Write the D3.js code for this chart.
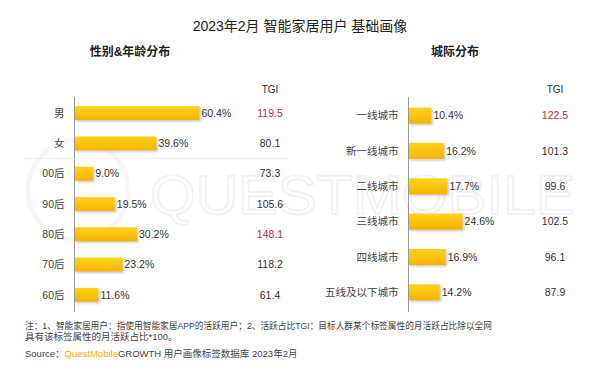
<!DOCTYPE html>
<html>
<head>
<meta charset="utf-8">
<script src="https://cdn.jsdelivr.net/npm/d3@7"></script>
<style>
  body { margin: 0; background: #fff; }
  text { font-family: "Liberation Sans", "Noto Sans CJK SC", sans-serif; }
</style>
</head>
<body>
<div id="chart"></div>
<script>
// data
const ageCats = ["男", "女", "00后", "90后", "80后", "70后", "60后"];
const ageVals = [60.4, 39.6, 9.0, 19.5, 30.2, 23.2, 11.6];
const ageTgi = [119.5, 80.1, 73.3, 105.6, 148.1, 118.2, 61.4];

const cityCats = ["一线城市", "新一线城市", "二线城市", "三线城市", "四线城市", "五线及以下城市"];
const cityVals = [10.4, 16.2, 17.7, 24.6, 16.9, 14.2];
const cityTgi = [122.5, 101.3, 99.6, 102.5, 96.1, 87.9];

// TGI values shown in red
const tgiHighlight = ["男", "80后", "一线城市"];

const W = 600, H = 375;
const cjk = '"Noto Sans CJK SC", sans-serif';
const textColor = "#333";

const svg = d3.select("#chart").append("svg")
    .attr("width", W)
    .attr("height", H);

svg.append("rect").attr("width", W).attr("height", H).attr("fill", "#fff");

const defs = svg.append("defs");
const grad = defs.append("linearGradient")
    .attr("id", "barGrad")
    .attr("x1", 0).attr("y1", 0).attr("x2", 0).attr("y2", 1);
grad.append("stop").attr("offset", "0%").attr("stop-color", "#ffd21a");
grad.append("stop").attr("offset", "100%").attr("stop-color", "#f5b400");

const shadow = defs.append("filter").attr("id", "shadow")
    .attr("x", "-5%").attr("y", "-20%").attr("width", "115%").attr("height", "160%");
shadow.append("feDropShadow")
    .attr("dx", 1.5).attr("dy", 1.5).attr("stdDeviation", 1)
    .attr("flood-color", "#888").attr("flood-opacity", 0.45);

// faint watermark (logo ring + outlined word), drawn as a path-like shape so it stays in the back
svg.append("circle")
    .attr("cx", 78).attr("cy", 190).attr("r", 50)
    .attr("fill", "none").attr("stroke", "#f6f6f6").attr("stroke-width", 5);
svg.append("text")
    .attr("x", 150).attr("y", 214)
    .attr("font-size", 56)
    .attr("textLength", 425)
    .attr("lengthAdjust", "spacingAndGlyphs")
    .attr("fill", "none")
    .attr("stroke", "#f2f2f2")
    .attr("stroke-width", 2)
    .text("QUESTMOBILE");

//Title
svg.append("text")
    .attr("x", 300).attr("y", 31)
    .attr("text-anchor", "middle")
    .attr("font-family", cjk)
    .attr("font-size", 14)
    .attr("fill", "#222")
    .text("2023年2月 智能家居用户 基础画像");

svg.append("text")
    .attr("x", 130).attr("y", 56)
    .attr("text-anchor", "middle")
    .attr("font-family", cjk)
    .attr("font-size", 12)
    .attr("font-weight", 600)
    .attr("fill", "#222")
    .text("性别&年龄分布");

svg.append("text")
    .attr("x", 455).attr("y", 56)
    .attr("text-anchor", "middle")
    .attr("font-family", cjk)
    .attr("font-size", 12)
    .attr("font-weight", 600)
    .attr("fill", "#222")
    .text("城际分布");

function panel(cats, vals, tgi, opt) {
    let y = d3.scaleBand().domain(cats)
        .range([98, 310])
        .paddingInner(opt.pad)
        .paddingOuter(opt.pad / 2);
    let x = d3.scaleLinear().domain([0, 100]).range([opt.x0, opt.x0 + opt.span]);

    let g = svg.append("g");

    // category labels
    g.selectAll(".cat")
        .data(cats)
        .enter().append("text")
        .attr("x", opt.x0 - 10)
        .attr("y", d => y(d) + y.bandwidth() / 2)
        .attr("dy", "0.35em")
        .attr("text-anchor", "end")
        .attr("font-family", cjk)
        .attr("font-size", 10.5)
        .attr("fill", "#444")
        .text(d => d);

    g.selectAll(".bar")
        .data(cats)
        .enter().append("rect")
        .attr("x", x(0))
        .attr("y", d => y(d))
        .attr("width", (d, i) => x(vals[i]) - x(0))
        .attr("height", y.bandwidth())
        .attr("fill", "url(#barGrad)")
        .attr("filter", "url(#shadow)");

    g.selectAll(".val")
        .data(cats)
        .enter().append("text")
        .attr("x", (d, i) => x(vals[i]) + 2)
        .attr("y", d => y(d) + y.bandwidth() / 2)
        .attr("dy", "0.35em")
        .attr("font-size", 10.5)
        .attr("fill", textColor)
        .text((d, i) => vals[i].toFixed(1) + "%");

    // vertical axis line
    g.append("line")
        .attr("x1", opt.x0).attr("x2", opt.x0)
        .attr("y1", 97).attr("y2", 312)
        .attr("stroke", "#999").attr("stroke-width", 1);

    g.append("text")
        .attr("x", opt.tgiX).attr("y", 93)
        .attr("text-anchor", "middle")
        .attr("font-size", 10)
        .attr("fill", textColor)
        .text("TGI");

    g.selectAll(".tgi")
        .data(cats)
        .enter().append("text")
        .attr("x", opt.tgiX)
        .attr("y", d => y(d) + y.bandwidth() / 2)
        .attr("dy", "0.35em")
        .attr("text-anchor", "middle")
        .attr("font-size", 10.5)
        .attr("fill", d => tgiHighlight.includes(d) ? "#b83245" : textColor)
        .text((d, i) => tgi[i].toFixed(1));

    return y;
}

let yAge = panel(ageCats, ageVals, ageTgi, {x0: 74.5, span: 207, pad: 0.54, tgiX: 270});
panel(cityCats, cityVals, cityTgi, {x0: 408.5, span: 220, pad: 0.545, tgiX: 555});

// separator between gender and age rows
let sepY = (yAge("女") + yAge.bandwidth() + yAge("00后")) / 2;
svg.append("line")
    .attr("x1", 25).attr("x2", 288)
    .attr("y1", sepY).attr("y2", sepY)
    .attr("stroke", "#ececec");

// footnote
const note1 = "注：1、智能家居用户：指使用智能家居APP的活跃用户；2、活跃占比TGI：目标人群某个标签属性的月活跃占比除以全网";
const note2 = "具有该标签属性的月活跃占比*100。";
svg.append("text")
    .attr("x", 25).attr("y", 329)
    .attr("font-family", cjk)
    .attr("font-size", 9.5)
    .attr("fill", "#444")
    .attr("textLength", 467)
    .attr("lengthAdjust", "spacingAndGlyphs")
    .text(note1);
svg.append("text")
    .attr("x", 25).attr("y", 340)
    .attr("font-family", cjk)
    .attr("font-size", 9.5)
    .attr("fill", "#444")
    .text(note2);

let src = svg.append("text")
    .attr("x", 25).attr("y", 357)
    .attr("font-family", cjk)
    .attr("font-size", 9.5)
    .attr("fill", "#444");
src.append("tspan").text("Source：");
src.append("tspan").attr("fill", "#f0b400").text("QuestMobile");
src.append("tspan").text("GROWTH 用户画像标签数据库 2023年2月");
</script>
</body>
</html>
